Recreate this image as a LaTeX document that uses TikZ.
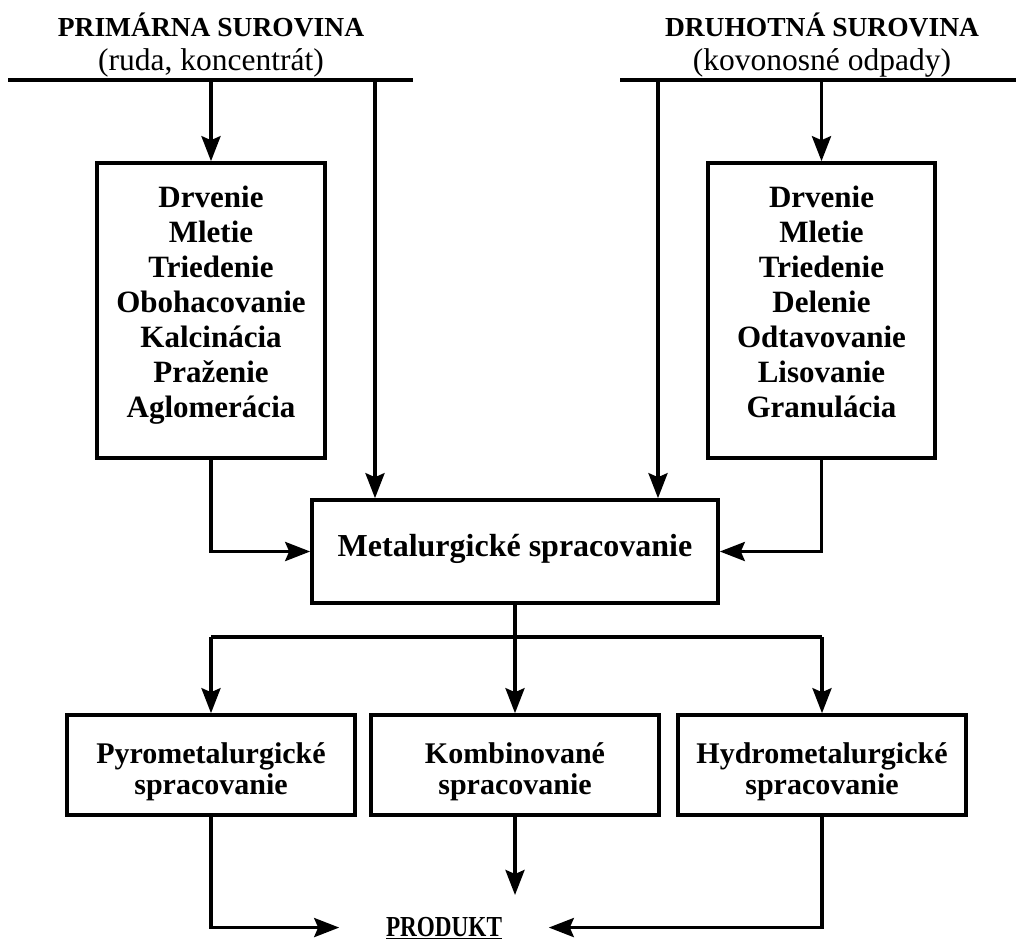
\documentclass[tikz,border=0pt]{standalone}
\usepackage{fontspec}
\setmainfont{Liberation Serif}
\newfontfamily\narrowfont[FakeStretch=0.8]{Liberation Serif}
\usetikzlibrary{arrows.meta,positioning}

\newcommand{\lowpad}{\rule[-17pt]{0pt}{17pt}}
\newcommand{\highpad}{\rule{0pt}{34pt}}

\tikzset{
  stagebox/.style={draw, rectangle, align=center, inner sep=0pt},
  flow/.style={-{Stealth[length=25pt,width=19pt,inset=4pt]}},
  titlefont/.style={font=\fontsize{27.5}{30}\selectfont\bfseries},
  notefont/.style={font=\fontsize{31.5}{34}\selectfont},
  stepfont/.style={font=\fontsize{31}{35}\selectfont\bfseries},
  endfont/.style={font=\fontsize{30}{31}\selectfont\bfseries}
}

\begin{document}
\begin{tikzpicture}[x=1pt,y=-1pt,line width=3.6pt]
  \useasboundingbox (0,0) rectangle (1016,943);
  \node[titlefont,anchor=base] (primtitle) at (211,36) {PRIMÁRNA SUROVINA};
  \node[notefont,anchor=base] (primnote) at (211,70) {(ruda, koncentrát)};
  \node[titlefont,anchor=base] (sectitle) at (822,36) {DRUHOTNÁ SUROVINA};
  \node[notefont,anchor=base] (secnote) at (822,70) {(kovonosné odpady)};
  \coordinate (primleft) at (8,80);
  \coordinate (primright) at (413,80);
  \coordinate (secleft) at (620,80);
  \coordinate (secright) at (1016,80);
  \coordinate (primby) at (375,80);
  \coordinate (secby) at (658,80);
  \node[stagebox,stepfont,minimum width=228pt,minimum height=295pt] (primprep) at (211,310.5)
    {Drvenie\\Mletie\\Triedenie\\Obohacovanie\\Kalcinácia\\Praženie\\Aglomerácia\lowpad};
  \node[stagebox,stepfont,minimum width=227pt,minimum height=295pt] (secprep) at (821.5,310.5)
    {Drvenie\\Mletie\\Triedenie\\Delenie\\Odtavovanie\\Lisovanie\\Granulácia\lowpad};
  \node[stagebox,font=\fontsize{32}{35}\selectfont\bfseries,minimum width=406pt,minimum height=103pt] (metal) at (515,551.5)
    {Metalurgické spracovanie\rule[-12pt]{0pt}{12pt}};
  \coordinate (split) at (515,637);
  \node[stagebox,endfont,minimum width=288pt,minimum height=100pt] (pyro) at (211,765)
    {\highpad Pyrometalurgické\\spracovanie};
  \node[stagebox,endfont,minimum width=288pt,minimum height=100pt] (komb) at (515,765)
    {\highpad Kombinované\\spracovanie};
  \node[stagebox,endfont,minimum width=288pt,minimum height=100pt] (hydro) at (822,765)
    {\highpad Hydrometalurgické\\spracovanie};
  \node[anchor=base,inner xsep=45pt,inner ysep=0pt,font=\fontsize{29}{30}\narrowfont\bfseries] (produkt) at (444,936)
    {\underline{PRODUKT}};
  \coordinate (kombend) at (515,895);
  \draw (primleft) -- (primright);
  \draw (secleft) -- (secright);
  \draw[flow] (primprep.north |- primleft) -- (primprep.north);
  \draw[flow] (secprep.north |- secleft) -- (secprep.north);
  \draw[flow] (primby) -- (primby |- metal.north);
  \draw[flow] (secby) -- (secby |- metal.north);
  \draw[flow] (primprep.south) |- (metal.west);
  \draw[flow] (secprep.south) |- (metal.east);
  \draw (metal.south) -- (split);
  \draw (pyro.north |- split) -- (hydro.north |- split);
  \foreach \n in {pyro,komb,hydro}
    \draw[flow] (\n.north |- split) -- (\n.north);
  \draw[flow] (pyro.south) |- (produkt.west);
  \draw[flow] (hydro.south) |- (produkt.east);
  \draw[flow] (komb.south) -- (kombend);
\end{tikzpicture}
\end{document}
